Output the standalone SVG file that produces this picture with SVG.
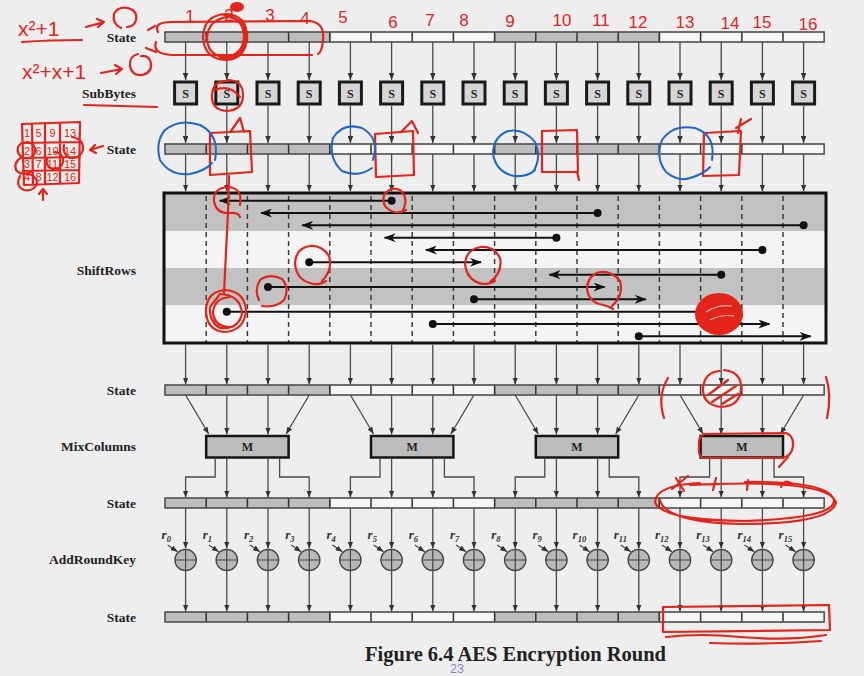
<svg xmlns="http://www.w3.org/2000/svg" xmlns:xlink="http://www.w3.org/1999/xlink" width="864" height="676" viewBox="0 0 864 676">
<style>
.lbl{font-family:"Liberation Serif",serif;font-weight:bold;font-size:13.5px;fill:#222;text-anchor:end}
.cg{fill:#bdbdbd;stroke:#555;stroke-width:1.2}
.cw{fill:#f6f6f6;stroke:#555;stroke-width:1.2}
.cdiv{stroke:#333;stroke-width:1.5;fill:none}
.cbox{fill:none;stroke:#555;stroke-width:1.2}
.sbox rect{fill:#d6d6d6;stroke:#1a1a1a;stroke-width:3}
.sbox text,.mbox text{font-family:"Liberation Serif",serif;font-weight:bold;font-size:12px;fill:#222;text-anchor:middle}
.mbox rect{fill:#bdbdbd;stroke:#151515;stroke-width:2.5}
.con{stroke:#4a4a4a;stroke-width:1.3;fill:none;marker-end:url(#ah)}
.sr{stroke:#111;stroke-width:2;fill:none;marker-end:url(#sa)}
.dot{fill:#111}
.rl{font-family:"Liberation Serif",serif;font-style:italic;font-weight:bold;font-size:13px;fill:#333}
.red{fill:none;stroke:#e3241b;stroke-width:2.2;stroke-linecap:round;stroke-linejoin:round}
.redf{fill:#e3241b}
.redt{font-family:"Liberation Sans",sans-serif;fill:#e3241b;font-size:17px;text-anchor:middle}
.blue{fill:none;stroke:#2068c8;stroke-width:2;stroke-linecap:round}
</style>
<defs>
<marker id="ah" viewBox="0 0 7 5.5" refX="7" refY="2.75" markerWidth="7" markerHeight="5.5" markerUnits="userSpaceOnUse" orient="auto"><path d="M0,0L7,2.75L0,5.5z" fill="#333"/></marker>
<marker id="sa" viewBox="0 0 12 9" refX="11" refY="4.5" markerWidth="12" markerHeight="9" markerUnits="userSpaceOnUse" orient="auto"><path d="M0,0L12,4.5L0,9L3.5,4.5z" fill="#111"/></marker>
<g id="bar">
<rect x="165" y="0" width="164.8" height="10" class="cg"/>
<rect x="329.8" y="0" width="164.8" height="10" class="cw"/>
<rect x="494.6" y="0" width="164.8" height="10" class="cg"/>
<rect x="659.4" y="0" width="164.8" height="10" class="cw"/>
<path class="cdiv" d="M206.2,0V10M247.4,0V10M288.6,0V10M329.8,0V10M371,0V10M412.2,0V10M453.4,0V10M494.6,0V10M535.8,0V10M577,0V10M618.2,0V10M659.4,0V10M700.6,0V10M741.8,0V10M783,0V10"/>
<rect x="165" y="0" width="659.2" height="10" class="cbox"/>
</g>
<g id="xor"><circle r="10.7" fill="#b8b8b8" stroke="#444" stroke-width="1.3"/><path d="M-10.7,0H10.7M0,-10.7V10.7" stroke="#444" stroke-width="1.2"/></g>
<g id="q">
<path class="con" d="M185.6,42V80"/><path class="con" d="M226.8,42V80"/><path class="con" d="M268,42V80"/><path class="con" d="M309.2,42V80"/>
<path class="con" d="M185.6,105.5V143"/><path class="con" d="M226.8,105.5V143"/><path class="con" d="M268,105.5V143"/><path class="con" d="M309.2,105.5V143"/>
<path class="con" d="M185.6,154V191.5"/><path class="con" d="M226.8,154V191.5"/><path class="con" d="M268,154V191.5"/><path class="con" d="M309.2,154V191.5"/>
<path class="con" d="M185.6,344.5V384.5"/><path class="con" d="M226.8,344.5V384.5"/><path class="con" d="M268,344.5V384.5"/><path class="con" d="M309.2,344.5V384.5"/>
<path class="con" d="M185.6,395L208.7,434"/><path class="con" d="M226.8,395V434.5"/><path class="con" d="M268,395V434.5"/><path class="con" d="M309.2,395L286.1,434"/>
<path class="con" d="M215.2,458V477H185.6V497.5"/><path class="con" d="M226.8,458V497.5"/><path class="con" d="M268,458V497.5"/><path class="con" d="M279.6,458V477H309.2V497.5"/>
<path class="con" d="M185.6,508V548.5"/><path class="con" d="M226.8,508V548.5"/><path class="con" d="M268,508V548.5"/><path class="con" d="M309.2,508V548.5"/>
<path class="con" d="M185.6,571V611.5"/><path class="con" d="M226.8,571V611.5"/><path class="con" d="M268,571V611.5"/><path class="con" d="M309.2,571V611.5"/>
<path class="con" d="M167.6,545L177.6,551.8"/><path class="con" d="M208.8,545L218.8,551.8"/><path class="con" d="M250,545L260,551.8"/><path class="con" d="M291.2,545L301.2,551.8"/>
</g>
</defs>
<rect x="0" y="0" width="864" height="676" fill="#eeeeee"/>

<g id="labels">
<text class="lbl" x="136" y="41.5">State</text>
<text class="lbl" x="136" y="97.5">SubBytes</text>
<text class="lbl" x="136" y="153.5">State</text>
<text class="lbl" x="136" y="274.5">ShiftRows</text>
<text class="lbl" x="136" y="394.5">State</text>
<text class="lbl" x="136" y="450.5">MixColumns</text>
<text class="lbl" x="136" y="507.5">State</text>
<text class="lbl" x="136" y="563.5">AddRoundKey</text>
<text class="lbl" x="136" y="621.5">State</text>
</g>

<g id="state1"><use xlink:href="#bar" y="32"/></g>
<g id="state2"><use xlink:href="#bar" y="144"/></g>
<g id="state3"><use xlink:href="#bar" y="385"/></g>
<g id="state4"><use xlink:href="#bar" y="498"/></g>
<g id="state5"><use xlink:href="#bar" y="612"/></g>

<g id="sub0" class="sbox"><rect x="174.6" y="82" width="22" height="22"/><text x="185.6" y="97.5">S</text></g>
<g id="sub1" class="sbox"><rect x="215.8" y="82" width="22" height="22"/><text x="226.8" y="97.5">S</text></g>
<g id="sub2" class="sbox"><rect x="257" y="82" width="22" height="22"/><text x="268" y="97.5">S</text></g>
<g id="sub3" class="sbox"><rect x="298.2" y="82" width="22" height="22"/><text x="309.2" y="97.5">S</text></g>
<g id="sub4" class="sbox"><rect x="339.4" y="82" width="22" height="22"/><text x="350.4" y="97.5">S</text></g>
<g id="sub5" class="sbox"><rect x="380.6" y="82" width="22" height="22"/><text x="391.6" y="97.5">S</text></g>
<g id="sub6" class="sbox"><rect x="421.8" y="82" width="22" height="22"/><text x="432.8" y="97.5">S</text></g>
<g id="sub7" class="sbox"><rect x="463" y="82" width="22" height="22"/><text x="474" y="97.5">S</text></g>
<g id="sub8" class="sbox"><rect x="504.2" y="82" width="22" height="22"/><text x="515.2" y="97.5">S</text></g>
<g id="sub9" class="sbox"><rect x="545.4" y="82" width="22" height="22"/><text x="556.4" y="97.5">S</text></g>
<g id="sub10" class="sbox"><rect x="586.6" y="82" width="22" height="22"/><text x="597.6" y="97.5">S</text></g>
<g id="sub11" class="sbox"><rect x="627.8" y="82" width="22" height="22"/><text x="638.8" y="97.5">S</text></g>
<g id="sub12" class="sbox"><rect x="669" y="82" width="22" height="22"/><text x="680" y="97.5">S</text></g>
<g id="sub13" class="sbox"><rect x="710.2" y="82" width="22" height="22"/><text x="721.2" y="97.5">S</text></g>
<g id="sub14" class="sbox"><rect x="751.4" y="82" width="22" height="22"/><text x="762.4" y="97.5">S</text></g>
<g id="sub15" class="sbox"><rect x="792.6" y="82" width="22" height="22"/><text x="803.6" y="97.5">S</text></g>

<g id="shiftrows">
<rect x="164" y="194" width="662" height="37" fill="#c2c2c2"/>
<rect x="164" y="231" width="662" height="37" fill="#f4f4f4"/>
<rect x="164" y="268" width="662" height="37" fill="#c2c2c2"/>
<rect x="164" y="305" width="662" height="38" fill="#f4f4f4"/>
<path d="M206.2,196V342M247.4,196V342M288.6,196V342M329.8,196V342M371,196V342M412.2,196V342M453.4,196V342M494.6,196V342M535.8,196V342M577,196V342M618.2,196V342M659.4,196V342M700.6,196V342M741.8,196V342M783,196V342" stroke="#3a3a3a" stroke-width="1.5" stroke-dasharray="5,4" fill="none"/>
<rect x="164" y="193" width="662" height="150" fill="none" stroke="#111" stroke-width="3"/>
</g>

<g id="mix0" class="mbox"><rect x="206.2" y="436" width="82.4" height="21.5"/><text x="247.4" y="451">M</text></g>
<g id="mix1" class="mbox"><rect x="371" y="436" width="82.4" height="21.5"/><text x="412.2" y="451">M</text></g>
<g id="mix2" class="mbox"><rect x="535.8" y="436" width="82.4" height="21.5"/><text x="577" y="451">M</text></g>
<g id="mix3" class="mbox"><rect x="700.6" y="436" width="82.4" height="21.5"/><text x="741.8" y="451">M</text></g>

<g id="xor0"><use xlink:href="#xor" x="185.6" y="560"/><text class="rl" x="161.6" y="538.5">r<tspan font-size="8.5" dy="3">0</tspan></text></g>
<g id="xor1"><use xlink:href="#xor" x="226.8" y="560"/><text class="rl" x="202.8" y="538.5">r<tspan font-size="8.5" dy="3">1</tspan></text></g>
<g id="xor2"><use xlink:href="#xor" x="268" y="560"/><text class="rl" x="244" y="538.5">r<tspan font-size="8.5" dy="3">2</tspan></text></g>
<g id="xor3"><use xlink:href="#xor" x="309.2" y="560"/><text class="rl" x="285.2" y="538.5">r<tspan font-size="8.5" dy="3">3</tspan></text></g>
<g id="xor4"><use xlink:href="#xor" x="350.4" y="560"/><text class="rl" x="326.4" y="538.5">r<tspan font-size="8.5" dy="3">4</tspan></text></g>
<g id="xor5"><use xlink:href="#xor" x="391.6" y="560"/><text class="rl" x="367.6" y="538.5">r<tspan font-size="8.5" dy="3">5</tspan></text></g>
<g id="xor6"><use xlink:href="#xor" x="432.8" y="560"/><text class="rl" x="408.8" y="538.5">r<tspan font-size="8.5" dy="3">6</tspan></text></g>
<g id="xor7"><use xlink:href="#xor" x="474" y="560"/><text class="rl" x="450" y="538.5">r<tspan font-size="8.5" dy="3">7</tspan></text></g>
<g id="xor8"><use xlink:href="#xor" x="515.2" y="560"/><text class="rl" x="491.2" y="538.5">r<tspan font-size="8.5" dy="3">8</tspan></text></g>
<g id="xor9"><use xlink:href="#xor" x="556.4" y="560"/><text class="rl" x="532.4" y="538.5">r<tspan font-size="8.5" dy="3">9</tspan></text></g>
<g id="xor10"><use xlink:href="#xor" x="597.6" y="560"/><text class="rl" x="572.6" y="538.5">r<tspan font-size="8.5" dy="3">10</tspan></text></g>
<g id="xor11"><use xlink:href="#xor" x="638.8" y="560"/><text class="rl" x="613.8" y="538.5">r<tspan font-size="8.5" dy="3">11</tspan></text></g>
<g id="xor12"><use xlink:href="#xor" x="680" y="560"/><text class="rl" x="655" y="538.5">r<tspan font-size="8.5" dy="3">12</tspan></text></g>
<g id="xor13"><use xlink:href="#xor" x="721.2" y="560"/><text class="rl" x="696.2" y="538.5">r<tspan font-size="8.5" dy="3">13</tspan></text></g>
<g id="xor14"><use xlink:href="#xor" x="762.4" y="560"/><text class="rl" x="737.4" y="538.5">r<tspan font-size="8.5" dy="3">14</tspan></text></g>
<g id="xor15"><use xlink:href="#xor" x="803.6" y="560"/><text class="rl" x="778.6" y="538.5">r<tspan font-size="8.5" dy="3">15</tspan></text></g>

<g id="connectors">
<use xlink:href="#q" x="0"/>
<use xlink:href="#q" x="164.8"/>
<use xlink:href="#q" x="329.6"/>
<use xlink:href="#q" x="494.4"/>
<path class="sr" d="M391.6,200.7H219.8"/>
<path class="sr" d="M597.6,213H261"/>
<path class="sr" d="M803.6,225.3H302.2"/>
<path class="sr" d="M556.4,237.7H384.6"/>
<path class="sr" d="M762.4,250H425.8"/>
<path class="sr" d="M309.2,262.3H481"/>
<path class="sr" d="M721.2,274.7H549.4"/>
<path class="sr" d="M268,287H604.6"/>
<path class="sr" d="M474,299.3H645.8"/>
<path class="sr" d="M226.8,311.7H728.2"/>
<path class="sr" d="M432.8,324H769.4"/>
<path class="sr" d="M638.8,336.3H810.6"/>
<circle class="dot" cx="391.6" cy="200.7" r="4"/>
<circle class="dot" cx="597.6" cy="213" r="4"/>
<circle class="dot" cx="803.6" cy="225.3" r="4"/>
<circle class="dot" cx="556.4" cy="237.7" r="4"/>
<circle class="dot" cx="762.4" cy="250" r="4"/>
<circle class="dot" cx="309.2" cy="262.3" r="4"/>
<circle class="dot" cx="721.2" cy="274.7" r="4"/>
<circle class="dot" cx="268" cy="287" r="4"/>
<circle class="dot" cx="474" cy="299.3" r="4"/>
<circle class="dot" cx="226.8" cy="311.7" r="4"/>
<circle class="dot" cx="432.8" cy="324" r="4"/>
<circle class="dot" cx="638.8" cy="336.3" r="4"/>
</g>

<g id="caption">
<text x="515.5" y="661" font-family="'Liberation Serif',serif" font-weight="bold" font-size="20.5" fill="#222" text-anchor="middle">Figure 6.4 AES Encryption Round</text>
<text x="450" y="672.5" font-family="'Liberation Sans',sans-serif" font-size="12.5" fill="#8b84d6">23</text>
</g>

<g id="annotations">
<g id="red-numbers">
<text class="redt" x="190" y="22">1</text>
<text class="redt" x="229" y="21">2</text>
<text class="redt" x="270" y="21">3</text>
<text class="redt" x="305" y="24">4</text>
<text class="redt" x="343" y="23">5</text>
<text class="redt" x="393" y="28">6</text>
<text class="redt" x="430" y="26">7</text>
<text class="redt" x="464" y="26">8</text>
<text class="redt" x="510" y="27">9</text>
<text class="redt" x="562" y="26" font-size="13">10</text>
<text class="redt" x="601" y="26">11</text>
<text class="redt" x="638" y="28">12</text>
<text class="redt" x="685" y="28">13</text>
<text class="redt" x="730" y="29">14</text>
<text class="redt" x="762" y="28">15</text>
<text class="redt" x="808" y="30">16</text>
</g>
<text x="18" y="36" font-family="'Liberation Sans',sans-serif" font-size="21" fill="#e3241b">x²+1</text>
<path class="red" d="M22,42Q50,40 82,40"/>
<path class="red" d="M86,27L104,22M97,19L104,22L98,27"/>
<path class="red" d="M121,28Q112,24 114,14Q118,6 128,8Q138,11 136,20Q134,27 127,27"/>
<text x="22" y="79" font-family="'Liberation Sans',sans-serif" font-size="21" fill="#e3241b">x²+x+1</text>
<path class="red" d="M101,73L122,69M115,65L122,69L116,74"/>
<path class="red" d="M138,54Q129,56 130,66Q132,76 142,75Q152,73 151,63Q149,55 141,56"/>
<path class="red" d="M158,32Q153,22 172,22L310,21Q325,23 323,40Q322,52 318,54M312,55L172,55Q152,54 156,42"/>
<path class="red" d="M148,30L155,26M146,48L156,52"/>
<path class="red" stroke-width="3" d="M226,14Q247,15 247,37Q246,59 226,60Q204,59 203,37Q204,15 226,14ZM228,17Q244,19 244,38Q242,56 224,57Q207,55 207,37Q209,19 228,17ZM224,15Q249,19 245,41Q240,61 220,58"/>
<ellipse class="redf" cx="237" cy="7" rx="7" ry="5"/>
<path class="red" d="M84,105Q120,106 157,107"/>
<path class="red" d="M227,80Q243,80 243,95Q243,110 227,111Q211,110 212,95Q213,80 229,81ZM214,90Q230,84 240,97"/>
<path class="red" d="M210,133L250,131L252,172L210,175Z"/>
<path class="red" d="M231,131L240,118L244,132"/>
<path class="red" d="M229,176L228,212L224,293"/>
<path class="red" d="M240,205Q243,188 228,187Q213,188 214,201Q216,214 230,213Q238,212 240,217"/>
<path class="red" d="M403,210Q409,198 400,190Q390,186 384,195Q381,208 394,212Q402,213 406,210"/>
<path class="red" d="M322,281Q333,270 329,256Q322,245 310,246Q296,248 295,263Q296,281 314,284Q321,285 326,281"/>
<path class="red" d="M490,282Q503,272 500,258Q494,246 481,247Q466,249 465,264Q467,281 483,284Q490,284 495,281"/>
<path class="red" d="M262,306Q276,308 284,300Q290,288 282,279Q270,273 260,280Q254,290 259,300"/>
<path class="red" stroke-width="2.5" d="M226,290Q245,292 246,311Q244,331 224,332Q206,330 206,310Q207,291 226,290ZM220,294Q241,295 242,314Q238,330 220,328Q209,322 210,307ZM230,297Q214,298 213,313Q215,328 232,327"/>
<path class="red" d="M612,306Q624,295 620,281Q612,271 600,272Q588,275 587,288Q588,302 603,305Q609,306 613,309"/>
<ellipse class="redf" cx="719" cy="314" rx="24" ry="21"/>
<path d="M706,312Q718,304 732,306M710,320Q722,314 734,316" stroke="#f6b0a8" stroke-width="1.2" fill="none"/>
<path class="red" d="M668,378Q657,396 664,418"/>
<path class="red" d="M826,377Q832,395 827,418"/>
<path class="red" d="M724,370Q742,372 741,389Q740,406 721,407Q703,405 703,389Q704,372 720,371"/>
<path class="red" d="M708,395L728,380M712,402L736,386M722,404L738,394"/>
<path class="red" d="M703,434L786,433Q794,436 793,446Q792,456 782,458L703,458Q698,456 699,446Q698,436 705,434"/>
<path class="red" d="M788,457L779,467"/>
<path class="red" d="M745,482Q829,481 834,500Q836,518 745,521Q660,520 655,502Q656,485 700,483M690,485Q830,478 836,503Q830,524 740,524Q665,522 660,500"/>
<path class="red" d="M672,489L688,476M676,478L684,491M716,478L713,490M748,480L747,490M792,484Q785,478 781,487"/>
<path class="red" d="M663,607L829,605L830,630L663,632Z"/>
<path class="red" d="M666,637Q700,633 740,637Q790,641 826,635M710,643Q760,645 821,641"/>
<g id="grid">
<path class="red" stroke-width="1.8" d="M22,124L80,122L79,183L24,185ZM32,124L33,185M45,123L45,184M60,123L60,184M22,143L80,142M23,158L80,157M23,171L79,170"/>
<g font-family="'Liberation Sans',sans-serif" font-size="11" fill="#e3241b" text-anchor="middle">
<text x="27" y="137">1</text><text x="38.5" y="137">5</text><text x="52.5" y="137">9</text><text x="70" y="137">13</text>
<text x="27" y="155">2</text><text x="38.5" y="155">6</text><text x="52.5" y="155">10</text><text x="70" y="155">14</text>
<text x="27" y="168">3</text><text x="38.5" y="168">7</text><text x="52.5" y="168">11</text><text x="70" y="168">15</text>
<text x="27" y="181">4</text><text x="38.5" y="181">8</text><text x="52.5" y="181">12</text><text x="70" y="181">16</text>
</g>
<path class="red" d="M27,142Q36,143 35,152Q33,160 24,158Q16,155 18,147Q21,141 29,143"/>
<path class="red" d="M22,157Q13,162 16,170Q21,176 31,172"/>
<path class="red" d="M20,176Q15,186 24,190Q34,192 37,183Q36,174 26,174"/>
<path class="red" d="M55,152Q64,153 63,162Q61,170 52,169Q45,166 47,158"/>
<path class="red" d="M72,137Q84,139 83,150Q80,159 70,158Q62,154 64,145"/>
<path class="red" d="M103,146L90,150M95,145L90,150L96,153"/>
<path class="red" d="M43,200L43,190M39,194L43,189L47,194"/>
</g>
<path class="red" d="M375,134L413,131L414,175L376,177Z"/>
<path class="red" d="M401,132L412,121L418,133"/>
<path class="red" d="M542,131L577,130L578,172L542,172ZM577,172L579,180"/>
<path class="red" d="M704,133L741,131L739,175L703,176Z"/>
<path class="red" d="M738,133L741,119M736,128L751,119"/>
<path class="blue" d="M215,160Q220,135 200,125Q180,118 165,130Q155,142 160,160Q170,176 190,174Q205,171 212,163"/>
<path class="blue" d="M373,160Q380,138 362,128Q343,122 333,138Q328,158 342,171Q358,178 372,168"/>
<path class="blue" d="M533,172Q542,158 535,142Q524,128 508,131Q493,137 493,154Q496,172 514,176Q528,177 535,170"/>
<path class="blue" d="M712,160Q716,135 695,128Q673,124 662,140Q655,158 666,172Q678,182 690,178Q704,174 710,167"/>
</g>
</svg>
